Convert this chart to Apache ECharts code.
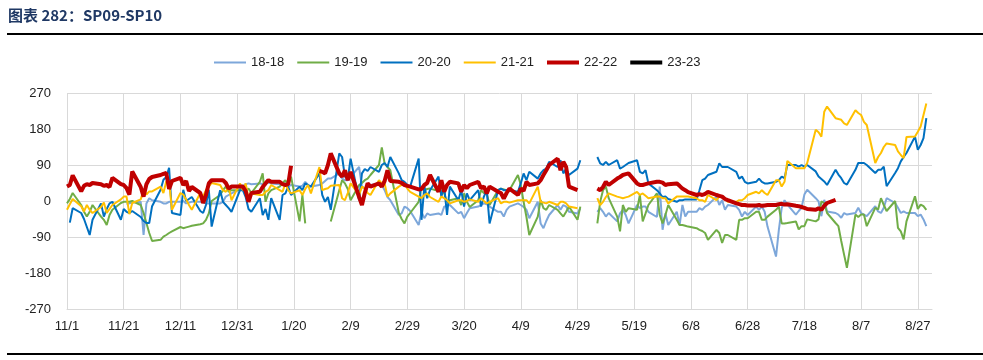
<!DOCTYPE html>
<html><head><meta charset="utf-8">
<script src="https://cdn.jsdelivr.net/npm/echarts/dist/echarts.min.js"></script>
<style>html,body{margin:0;padding:0;background:#fff}#c{width:983px;height:360px}</style>
</head><body><div id="c"></div>
<script>
const chartTitle = '图表 282：SP09-SP10';
const seriesNames = ['18-18', '19-19', '20-20', '21-21', '22-22', '23-23'];
const yMin = -270, yMax = 270, yStep = 90;
const labelEvery = 20; // tick labels 11/1, 11/21, 12/11 ... 8/27

// Values per weekday: first row = Wed 11/1 .. Fri 11/3, then one row per week (Mon..Fri)
const s1818 = [
  null,null,null,
  null,null,null,null,null,
  null,null,null,null,null,
  null,null,-8,-6,-4,
  -2,-85,-6,7,2,
  -2,-6,-6,-2,-2,
  -2,0,-6,-4,-2,
  -2,-4,-6,-6,-6,
  -6,-2,11,15,19,
  30,38,42,44,42,
  44,42,44,46,44,
  42,44,44,36,40,
  36,38,48,40,36,
  40,44,50,56,56,
  69,56,52,52,61,
  85,36,31,35,40,
  44,40,27,10,2,
  -35,-31,-14,-18,-25,
  -60,-27,-43,-31,-35,
  -31,-35,-14,-12,-10,
  -31,-27,-43,-30,-18,
  -14,-10,-6,-8,-14,
  -27,-27,-39,-22,-14,
  -6,-10,-15,-22,-43,
  -2,-56,-68,-50,-35,
  -10,-22,-10,-14,-27,
  -31,-18,null,null,null,
  -27,-18,-27,-39,-30,
  -51,-31,-22,-35,-56,
  -10,-18,-14,-14,-27,
  -40,36,-72,-31,-60,
  -27,-60,-10,-39,-27,
  -27,-18,-22,-14,-10,
  11,-10,2,-22,-10,
  -14,-22,-39,-27,-35,
  -14,-22,-14,-27,-64,
  -139,-72,-18,2,-9,
  -34,-25,-17,16,28,
  7,-1,-38,3,-26,
  -30,-34,-42,-30,-34,
  -30,-17,-30,-34,-38,
  -13,-26,-30,-17,7,
  -5,-17,-30,-26,-30,
  -30,-38,-34,-46,-63
];
const s1919 = [
  -6,5,20,
  -10,-27,-39,-27,-10,
  -39,-47,-60,-35,-22,
  -5,-2,-2,-2,0,
  -10,-30,-55,-80,-100,
  -97,-89,-85,-80,-76,
  -65,-68,-66,-64,-62,
  -58,-56,-47,-31,0,
  15,27,36,23,27,
  27,36,27,31,20,
  48,69,-2,19,27,
  36,45,52,40,61,
  -51,15,-56,null,null,
  null,null,null,null,-51,
  27,52,44,30,2,
  40,45,52,56,65,
  90,134,94,85,77,
  -30,-45,-56,-39,-30,
  -2,36,27,30,31,
  25,27,19,-2,2,
  7,-10,19,-2,-15,
  2,27,20,19,-10,
  27,31,29,27,27,
  65,40,-2,-40,-85,
  -39,2,-18,-22,-10,
  -22,-31,-39,-27,-14,
  -47,-14,null,null,null,
  -56,-2,27,36,7,
  -39,-76,-10,-27,-18,
  -22,15,-51,-31,-10,
  19,-35,-56,-35,-10,
  -47,-60,-60,-62,-64,
  -68,-72,-75,-80,-97,
  -72,-80,-105,-85,-85,
  -97,-47,-47,-43,-43,
  -27,-27,-47,-47,-39,
  -22,-14,-56,-56,-55,
  -51,-71,-63,-63,-46,
  -51,-46,-1,-5,-30,
  -55,-63,-100,-134,-167,
  -34,-40,-34,-34,-63,
  -17,-21,7,-10,-25,
  0,-67,-76,-96,-51,
  12,-20,-9,-13,-22
];
const s2020 = [
  null,-54,-18,
  -30,-45,-65,-85,-47,
  -6,-39,-20,-6,-2,
  -47,-20,-27,-30,-25,
  -40,-50,-55,-55,-13,
  28,53,60,83,-30,
  -35,28,0,5,10,
  -25,-30,-10,28,-64,
  27,-2,-10,-18,-27,
  27,27,10,-20,-27,
  7,-35,-20,-47,7,
  -47,15,19,36,15,
  36,27,44,40,36,
  69,15,-2,10,-22,
  119,110,61,56,106,
  2,69,80,75,85,
  73,90,95,85,110,
  69,52,48,40,36,
  106,-47,36,7,27,
  61,11,36,-35,36,
  2,27,-14,19,2,
  27,-14,11,27,-56,
  27,31,27,27,27,
  23,44,69,52,73,
  56,69,77,81,98,
  85,102,69,81,65,
  81,102,null,null,null,
  110,94,90,98,90,
  102,81,85,90,95,
  102,73,69,77,44,
  27,19,10,11,5,
  -2,2,2,4,4,
  4,27,52,56,65,
  73,94,85,85,85,
  73,56,61,48,44,
  48,56,48,44,44,
  48,52,61,57,90,
  90,86,90,86,90,
  74,61,55,49,40,
  78,66,57,45,41,
  78,95,95,95,90,
  70,78,78,86,37,
  70,82,99,110,120,
  161,128,140,157,207
];
const s2121 = [
  -22,-8,5,
  -13,-26,-10,-22,-30,
  -15,-4,-30,-20,-10,
  4,11,11,-33,-5,
  4,28,16,24,24,
  36,20,49,49,-22,
  20,16,4,-10,-22,
  20,11,28,36,45,
  40,27,23,36,2,
  44,27,44,7,19,
  15,15,23,27,40,
  27,23,44,27,19,
  27,15,30,40,19,
  85,27,30,32,38,
  40,7,2,20,44,
  15,36,31,20,15,
  52,44,44,11,19,
  36,40,44,31,23,
  11,7,15,19,10,
  -2,11,7,2,-6,
  2,2,-2,0,4,
  -2,7,0,-6,-2,
  7,-6,-2,-2,-4,
  2,2,2,2,-6,
  36,-2,-4,-6,-2,
  -10,-2,-2,-6,-14,
  -18,null,null,null,null,
  7,-10,-2,10,19,
  11,9,7,9,11,
  23,15,19,13,7,
  11,11,7,7,-6,
  11,11,11,11,11,
  7,2,2,-2,15,
  2,11,9,7,-2,
  -2,2,2,7,15,
  23,19,27,20,15,
  52,52,36,48,100,
  82,82,82,82,95,
  178,172,161,223,236,
  207,205,203,194,190,
  227,220,215,198,190,
  95,110,120,135,144,
  140,124,115,107,160,
  161,173,186,215,244
];
const s2222 = [
  36,40,64,
  24,38,42,40,45,
  42,38,40,35,58,
  42,40,32,16,74,
  35,11,42,55,60,
  65,68,70,30,50,
  58,40,50,25,35,
  20,-5,15,44,52,
  52,52,45,31,36,
  36,36,25,-2,20,
  23,35,44,52,48,
  48,42,40,42,88,
  null,null,null,null,null,
  75,73,69,90,119,
  69,61,77,52,73,
  10,-10,20,44,36,
  44,36,50,77,50,
  48,45,40,38,36,
  29,30,40,45,65,
  23,52,23,40,48,
  44,23,40,32,40,
  48,32,36,19,36,
  23,20,6,20,31,
  15,31,25,48,40,
  44,52,65,77,90,
  106,77,98,85,36,
  27,null,null,null,null,
  31,27,35,48,40,
  56,60,65,67,69,
  44,40,40,42,44,
  48,48,46,40,42,
  44,38,31,27,22,
  15,17,15,18,23,
  15,13,11,5,2,
  -6,-8,-10,-10,-11,
  -11,-10,-12,-11,-10,
  -10,-8,-7,-9,-8,
  -12,-13,-15,-17,-20,
  -22,-18,-22,-12,-5,
  3,null,null,null,null,
  null,null,null,null,null,
  null,null,null,null,null,
  null,null,null,null,null,
  null,null,null,null,null
];
const s2323 = [];

// calendar categories 11/1/2023 .. 9/1/2024 and the positions of weekdays among them
const dates = [];
const weekdayIdx = [];
(function () {
  const t = new Date(2023, 10, 1), end = new Date(2024, 8, 1);
  let i = 0;
  while (t <= end) {
    dates.push((t.getMonth() + 1) + '/' + t.getDate());
    const wd = t.getDay();
    if (wd !== 0 && wd !== 6) weekdayIdx.push(i);
    t.setDate(t.getDate() + 1); i++;
  }
})();
function toPairs(vals) { return vals.map((v, k) => [weekdayIdx[k], v]); }

const allData = [s1818, s1919, s2020, s2121, s2222, s2323];
const colors = ['#7DA7DA', '#70AD47', '#0070C0', '#FFC000', '#C00000', '#000000'];
const widths = [2, 2, 2, 2, 4, 4];
const thinIcon = 'path://M0,0H32V2H0Z';
const thickIcon = 'path://M0,0H32V4H0Z';

const chart = echarts.init(document.getElementById('c'), null, { renderer: 'canvas' });
chart.setOption({
  animation: false,
  textStyle: { fontFamily: 'Liberation Sans, Noto Sans CJK SC, sans-serif' },
  graphic: [
    { type: 'text', left: 8, top: 8, style: { text: chartTitle, fill: '#1F3864', font: 'bold 15px "Noto Sans CJK SC", sans-serif' } },
    { type: 'rect', shape: { x: 7, y: 33, width: 976, height: 2 }, style: { fill: '#000' } },
    { type: 'rect', shape: { x: 7, y: 353, width: 976, height: 2 }, style: { fill: '#000' } }
  ],
  legend: {
    left: 209, top: 51, itemWidth: 32, itemHeight: 14, itemGap: 13,
    symbolKeepAspect: true,
    textStyle: { fontSize: 13, color: '#222' },
    data: seriesNames.map((n, i) => ({
      name: n, icon: widths[i] > 2 ? thickIcon : thinIcon,
      itemStyle: { color: colors[i], borderWidth: 0 }
    }))
  },
  grid: { left: 67, right: 51, top: 93, bottom: 51 },
  xAxis: {
    type: 'category', data: dates, boundaryGap: false,
    axisLine: { onZero: false, lineStyle: { color: '#D9D9D9', width: 1 } },
    axisTick: { show: false },
    axisLabel: { interval: labelEvery - 1, color: '#222', fontSize: 13, margin: 11 },
    splitLine: { show: true, interval: labelEvery - 1, lineStyle: { color: '#D9D9D9', width: 1 } }
  },
  yAxis: {
    type: 'value', min: yMin, max: yMax, interval: yStep,
    axisLine: { show: false }, axisTick: { show: false },
    axisLabel: { color: '#222', fontSize: 13, margin: 16 },
    splitLine: { lineStyle: { color: '#D9D9D9', width: 1 } }
  },
  series: seriesNames.map((n, i) => ({
    name: n, type: 'line', data: toPairs(allData[i]),
    symbol: 'none', showSymbol: false, connectNulls: false,
    lineStyle: { color: colors[i], width: widths[i] },
    itemStyle: { color: colors[i] },
    z: 2 + i
  }))
});
</script>
</body></html>
